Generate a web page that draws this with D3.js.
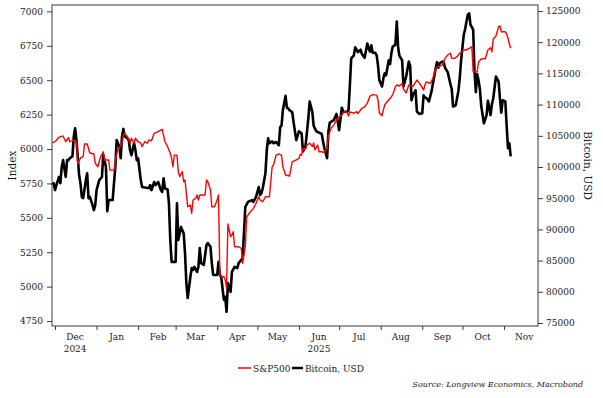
<!DOCTYPE html>
<html>
<head>
<meta charset="utf-8">
<script src="https://cdn.jsdelivr.net/npm/d3@7"></script>
<style>
  body { margin: 0; background: #fff; }
  #chart { width: 603px; height: 398px; }
  text { font-family: "DejaVu Serif", Georgia, serif; fill: #1a1a1a; }
</style>
</head>
<body>
<div id="chart"></div>
<script>
// S&P500 (left axis)
var spxDates = [
  "2024-11-29","2024-12-01","2024-12-04","2024-12-07","2024-12-09","2024-12-11","2024-12-12","2024-12-15","2024-12-17","2024-12-18","2024-12-20","2024-12-22","2024-12-23","2024-12-25","2024-12-27","2024-12-30","2024-12-31",
  "2025-01-02","2025-01-04","2025-01-06","2025-01-07","2025-01-10","2025-01-11","2025-01-14","2025-01-15","2025-01-16","2025-01-17","2025-01-20","2025-01-21","2025-01-22","2025-01-24","2025-01-26","2025-01-27","2025-01-29","2025-01-30",
  "2025-02-01","2025-02-03","2025-02-04","2025-02-06","2025-02-08","2025-02-09","2025-02-11","2025-02-13","2025-02-16","2025-02-19","2025-02-21","2025-02-23","2025-02-25","2025-02-26","2025-02-27","2025-02-28",
  "2025-03-02","2025-03-03","2025-03-04","2025-03-06","2025-03-07","2025-03-08","2025-03-09","2025-03-10","2025-03-12","2025-03-13","2025-03-14","2025-03-16","2025-03-17","2025-03-18","2025-03-19","2025-03-23","2025-03-24","2025-03-25","2025-03-27","2025-03-28","2025-03-30",
  "2025-04-01","2025-04-02","2025-04-03","2025-04-06","2025-04-07","2025-04-08","2025-04-09","2025-04-11","2025-04-12","2025-04-13","2025-04-14","2025-04-17","2025-04-19","2025-04-20","2025-04-22","2025-04-23","2025-04-25","2025-04-28","2025-04-30",
  "2025-05-02","2025-05-03","2025-05-05","2025-05-07","2025-05-10","2025-05-12","2025-05-13","2025-05-15","2025-05-17","2025-05-19","2025-05-20","2025-05-22","2025-05-25","2025-05-27","2025-05-29",
  "2025-06-01","2025-06-02","2025-06-03","2025-06-04","2025-06-06","2025-06-07","2025-06-09","2025-06-11","2025-06-12","2025-06-13","2025-06-15","2025-06-16","2025-06-18","2025-06-20","2025-06-22","2025-06-23","2025-06-25","2025-06-27","2025-06-29",
  "2025-07-01","2025-07-03","2025-07-05","2025-07-07","2025-07-08","2025-07-09","2025-07-12","2025-07-14","2025-07-15","2025-07-18","2025-07-20","2025-07-22","2025-07-24","2025-07-26","2025-07-29","2025-07-30","2025-07-31",
  "2025-08-02","2025-08-03","2025-08-04","2025-08-05","2025-08-07","2025-08-09","2025-08-10","2025-08-12","2025-08-13","2025-08-15","2025-08-17","2025-08-18","2025-08-19","2025-08-20","2025-08-22","2025-08-23","2025-08-25","2025-08-28","2025-08-30",
  "2025-09-02","2025-09-03","2025-09-04","2025-09-07","2025-09-09","2025-09-11","2025-09-13","2025-09-16","2025-09-18","2025-09-20","2025-09-22","2025-09-23","2025-09-25","2025-09-27","2025-09-29",
  "2025-10-02","2025-10-04","2025-10-06","2025-10-08","2025-10-09","2025-10-12","2025-10-13","2025-10-15","2025-10-17","2025-10-18","2025-10-20","2025-10-22","2025-10-23","2025-10-24","2025-10-26","2025-10-28","2025-10-29","2025-10-30",
  "2025-11-02","2025-11-03","2025-11-04","2025-11-05","2025-11-06"
]
var spxValues = [
  6044,6053,6085,6095,6053,6082,6053,6065,6053,5891,5935,5944,6036,6036,5971,5964,5898,
  5871,5944,5980,5920,5920,5847,5847,5908,5969,5993,6042,6102,6114,6089,6042,6078,6042,6078,
  6053,6042,6017,6053,6042,6065,6060,6114,6126,6143,6053,6017,5969,5932,5871,5956,
  5956,5835,5799,5835,5762,5775,5678,5581,5593,5533,5629,5642,5666,5629,5666,5666,5775,5762,5702,5581,5581,
  5629,5666,5072,5072,5048,4990,5455,5363,5375,5399,5290,5290,5278,5169,5290,5508,5533,5569,5605,
  5653,5629,5617,5653,5653,5871,5884,5956,5964,5956,5871,5811,5804,5908,5916,
  5932,5962,5956,6005,6000,6029,6042,6017,6044,5993,6029,5980,5980,5975,6007,6095,6150,6174,6211,
  6233,6247,6273,6265,6240,6269,6260,6271,6258,6296,6307,6332,6385,6395,6392,6356,6262,
  6242,6283,6320,6334,6356,6380,6396,6453,6465,6458,6476,6436,6422,6407,6465,6465,6454,6501,6477,
  6429,6465,6487,6477,6514,6587,6598,6610,6659,6683,6696,6659,6659,6671,6696,
  6720,6720,6732,6743,6562,6562,6632,6654,6659,6654,6720,6736,6707,6799,6821,6889,6894,6852,
  6852,6836,6804,6763,6732
]

// Bitcoin in USD (right axis)
var btcDates = [
  "2024-11-29","2024-11-30",
  "2024-12-01","2024-12-02","2024-12-04","2024-12-05","2024-12-06","2024-12-07","2024-12-09","2024-12-10","2024-12-11","2024-12-12","2024-12-14","2024-12-15","2024-12-16","2024-12-17","2024-12-19","2024-12-20","2024-12-21","2024-12-22","2024-12-24","2024-12-25","2024-12-26","2024-12-27","2024-12-29","2024-12-30","2024-12-31",
  "2025-01-01","2025-01-03","2025-01-05","2025-01-06","2025-01-08","2025-01-09","2025-01-10","2025-01-13","2025-01-14","2025-01-15","2025-01-16","2025-01-18","2025-01-19","2025-01-20","2025-01-21","2025-01-22","2025-01-24","2025-01-25","2025-01-26","2025-01-27","2025-01-29","2025-01-30","2025-01-31",
  "2025-02-01","2025-02-03","2025-02-04","2025-02-06","2025-02-09","2025-02-10","2025-02-11","2025-02-13","2025-02-14","2025-02-16","2025-02-18","2025-02-19","2025-02-20","2025-02-21","2025-02-23","2025-02-24","2025-02-25","2025-02-26",
  "2025-03-01","2025-03-02","2025-03-03","2025-03-05","2025-03-07","2025-03-08","2025-03-09","2025-03-10","2025-03-12","2025-03-13","2025-03-14","2025-03-15","2025-03-17","2025-03-18","2025-03-19","2025-03-20","2025-03-22","2025-03-23","2025-03-24","2025-03-25","2025-03-27","2025-03-28","2025-03-29",
  "2025-04-01","2025-04-02","2025-04-03","2025-04-04","2025-04-06","2025-04-07","2025-04-08","2025-04-09","2025-04-11","2025-04-12","2025-04-14","2025-04-16","2025-04-17","2025-04-19","2025-04-20","2025-04-22","2025-04-24","2025-04-27","2025-04-28","2025-04-30",
  "2025-05-02","2025-05-03","2025-05-04","2025-05-05","2025-05-07","2025-05-08","2025-05-09","2025-05-10","2025-05-12","2025-05-13","2025-05-15","2025-05-17","2025-05-18","2025-05-19","2025-05-20","2025-05-22","2025-05-23","2025-05-24","2025-05-25","2025-05-27","2025-05-28","2025-05-30",
  "2025-06-01","2025-06-03","2025-06-04","2025-06-06","2025-06-08","2025-06-09","2025-06-11","2025-06-12","2025-06-14","2025-06-17","2025-06-18","2025-06-19","2025-06-20","2025-06-22","2025-06-23","2025-06-24","2025-06-27","2025-06-28","2025-06-29",
  "2025-07-01","2025-07-03","2025-07-04","2025-07-07","2025-07-08","2025-07-09","2025-07-10","2025-07-12","2025-07-13","2025-07-14","2025-07-15","2025-07-17","2025-07-18","2025-07-20","2025-07-22","2025-07-23","2025-07-24","2025-07-25","2025-07-26","2025-07-28","2025-07-29","2025-07-30","2025-07-31",
  "2025-08-02","2025-08-03","2025-08-04","2025-08-05","2025-08-07","2025-08-08","2025-08-09","2025-08-10","2025-08-12","2025-08-13","2025-08-14","2025-08-15","2025-08-17","2025-08-18","2025-08-20","2025-08-22","2025-08-23","2025-08-24","2025-08-25","2025-08-27","2025-08-28","2025-08-30",
  "2025-09-01","2025-09-02","2025-09-03","2025-09-04","2025-09-06","2025-09-08","2025-09-11","2025-09-12","2025-09-13","2025-09-14","2025-09-16","2025-09-17","2025-09-18","2025-09-20","2025-09-22","2025-09-23","2025-09-24","2025-09-26","2025-09-28","2025-09-29","2025-09-30",
  "2025-10-02","2025-10-03","2025-10-04","2025-10-05","2025-10-06","2025-10-07","2025-10-09","2025-10-10","2025-10-11","2025-10-12","2025-10-13","2025-10-14","2025-10-15","2025-10-17","2025-10-19","2025-10-20","2025-10-22","2025-10-23","2025-10-24","2025-10-26","2025-10-28","2025-10-29","2025-10-30","2025-10-31",
  "2025-11-02","2025-11-03","2025-11-04","2025-11-05","2025-11-06"
]
var btcValues = [
  97100,97400,
  96300,97100,98400,97400,100000,101100,98400,101100,101100,101400,101700,104900,106200,104300,98700,97400,95200,95000,97900,99000,95000,95200,93900,93100,93900,
  96300,97900,98400,101900,100000,92900,94700,94700,97400,100000,104300,103300,101400,104900,106100,104900,104600,104300,102700,101900,103800,102700,101100,
  101400,97900,96800,96700,96600,97100,96300,97600,97100,97600,96300,96000,98200,96600,96400,94200,88300,84800,
  84800,94200,88300,90400,89400,86200,81400,79000,82400,83800,83500,84000,83200,84000,87000,84600,84300,85900,87500,87800,87200,84600,82700,
  82700,84800,82700,82400,78700,79200,76800,81400,80000,83200,84000,83800,84600,85100,85400,93600,94400,94700,94400,95200,
  96800,95500,95800,96600,99000,102700,104600,103800,104100,103800,104000,103500,106400,106600,109100,111400,109500,109400,109100,108800,107200,104300,
  105700,105400,102500,103500,107800,110500,108800,106600,105700,105400,105300,104100,103000,101400,105700,107100,107500,108000,108500,
  105900,109500,108900,108800,109100,113100,117400,117900,119200,118800,118400,118800,118100,117500,119800,119000,118500,119500,118300,118300,117900,116300,113900,
  112900,114200,115000,114700,117100,116500,118300,119300,119600,123300,119200,117800,117100,112900,114500,116900,116200,110700,111500,112300,108900,108500,
  108600,111500,111100,111100,110500,112200,115800,116800,115900,116600,116900,116800,115900,115200,113300,112500,109700,109900,112200,114300,117100,
  121200,122100,123300,124400,124600,122800,122000,115400,112000,114900,113900,112500,109800,107000,108300,110600,108300,110100,111000,114500,113700,110900,108700,110700,
  110500,106600,103000,103800,101700
]

var leftTicks = [4750, 5000, 5250, 5500, 5750, 6000, 6250, 6500, 6750, 7000]
var rightTicks = [75000, 80000, 85000, 90000, 95000, 100000, 105000, 110000, 115000, 120000, 125000]
var monthNames = ["Dec", "Jan", "Feb", "Mar", "Apr", "May", "Jun", "Jul", "Aug", "Sep", "Oct", "Nov"]
var yearNames = {"Dec": "2024", "Jun": "2025"}

var colors = {}
colors.spx = "#ff0000"
colors.btc = "#000000"
colors.axis = "#3a3a3a"

document.addEventListener("DOMContentLoaded", function() {
  bootstrap()
});

function bootstrap(){
  drawChart()
}

function toSeries(dates, values){
  var parse = d3.utcParse("%Y-%m-%d")
  var n = Math.min(dates.length, values.length)
  if (dates.length !== values.length) console.log("length mismatch", dates.length, values.length)
  var out = []
  for (var i = 0; i < n; i++) out.push({date: parse(dates[i]), value: values[i]})
  return out
}

function drawChart(){
  var chart = document.querySelector("#chart")
  var left = 52, top = 5
  var width = 486, height = 321

  var spx = toSeries(spxDates, spxValues)
  var btc = toSeries(btcDates, btcValues)

  var x = d3.scaleUtc()
    .domain([Date.UTC(2024, 10, 28, 18), Date.UTC(2025, 10, 26, 9)])
    .range([0, width])

  var yLeft = d3.scaleLinear().domain([4714, 7046.5]).range([height, 0])
  var yRight = d3.scaleLinear().domain([74518, 125962]).range([height, 0])

  var svg = d3.select(chart).append("svg")
    .attr("width", 603)
    .attr("height", 398)

  var g = svg.append("g").attr("transform", "translate(" + left + "," + top + ")")

  // axes
  var axLeft = g.append("g")
    .call(d3.axisLeft(yLeft).tickValues(leftTicks).tickSize(5).tickPadding(4).tickFormat(d3.format("d")))
  var axRight = g.append("g").attr("transform", "translate(" + width + ",0)")
    .call(d3.axisRight(yRight).tickValues(rightTicks).tickSize(5).tickPadding(3).tickFormat(d3.format("d")))
  var months = d3.utcMonth.range(new Date(Date.UTC(2024, 11, 1)), new Date(Date.UTC(2025, 10, 2)))
  var axBottom = g.append("g").attr("transform", "translate(0," + height + ")")
    .call(d3.axisBottom(x).tickValues(months).tickSize(4).tickFormat(""))

  ;[axLeft, axRight, axBottom].forEach(function(a){
    a.select(".domain").remove()
    a.selectAll("line").attr("stroke", colors.axis)
    a.selectAll("text").attr("font-family", "DejaVu Serif, serif").attr("font-size", 9).attr("fill", "#1a1a1a")
  })

  // month labels sit in the middle of each month
  var labels = g.append("g").attr("transform", "translate(0," + height + ")")
  months.forEach(function(m, i){
    var mid = d3.utcDay.offset(m, 15)
    labels.append("text")
      .attr("x", x(mid)).attr("y", 14)
      .attr("text-anchor", "middle").attr("font-size", 9)
      .text(monthNames[i])
    if (yearNames[monthNames[i]]) {
      labels.append("text")
        .attr("x", x(mid)).attr("y", 26)
        .attr("text-anchor", "middle").attr("font-size", 9)
        .text(yearNames[monthNames[i]])
    }
  })

  // lines
  var lineBtc = d3.line().x(function(d){ return x(d.date) }).y(function(d){ return yRight(d.value) })
  var lineSpx = d3.line().x(function(d){ return x(d.date) }).y(function(d){ return yLeft(d.value) })

  g.append("path").datum(btc)
    .attr("d", lineBtc).attr("fill", "none")
    .attr("stroke", colors.btc).attr("stroke-width", 2.6)
    .attr("stroke-linejoin", "round")

  g.append("path").datum(spx)
    .attr("d", lineSpx).attr("fill", "none")
    .attr("stroke", colors.spx).attr("stroke-width", 1.4)
    .attr("stroke-linejoin", "round")

  // frame
  g.append("rect")
    .attr("x", 0).attr("y", 0).attr("width", width).attr("height", height)
    .attr("fill", "none").attr("stroke", colors.axis).attr("stroke-width", 1)

  // axis titles
  svg.append("text")
    .attr("transform", "translate(16," + (top + height / 2) + ") rotate(-90)")
    .attr("text-anchor", "middle")
    .attr("font-family", "Liberation Serif, serif").attr("font-size", 10.5)
    .text("Index")
  svg.append("text")
    .attr("transform", "translate(584," + (top + height / 2) + ") rotate(90)")
    .attr("text-anchor", "middle")
    .attr("font-family", "Liberation Serif, serif").attr("font-size", 10.5)
    .text("Bitcoin, USD")

  // legend
  var legend = [
    {label: "S&P500", color: colors.spx, width: 1.5, x: 238, len: 13},
    {label: "Bitcoin, USD", color: colors.btc, width: 2.5, x: 292, len: 11}
  ]
  var lg = svg.append("g").attr("transform", "translate(0,368)")
  legend.forEach(function(l){
    lg.append("line")
      .attr("x1", l.x).attr("x2", l.x + l.len).attr("y1", 0).attr("y2", 0)
      .attr("stroke", l.color).attr("stroke-width", l.width)
    lg.append("text")
      .attr("x", l.x + l.len + 2).attr("y", 3.5)
      .attr("font-size", 9)
      .text(l.label)
  })

  svg.append("text")
    .attr("x", 583).attr("y", 387)
    .attr("text-anchor", "end")
    .attr("font-style", "italic").attr("font-size", 8)
    .text("Source: Longview Economics, Macrobond")
}
</script>
</body>
</html>
